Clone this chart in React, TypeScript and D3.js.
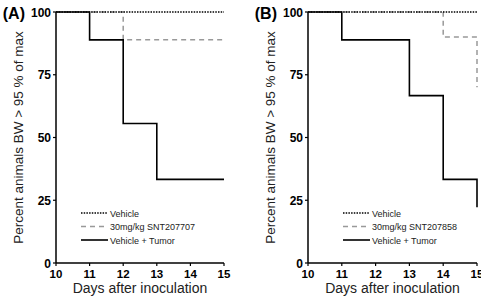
import React from "react";
import * as d3 from "d3";

const xTicks = [10, 11, 12, 13, 14, 15];
const yTicks = [0, 25, 50, 75, 100];

const panelLabels = ["(A)", "(B)"];
const drugNames = ["30mg/kg SNT207707", "30mg/kg SNT207858"];

// step data: [day, percent]
const vehicleA: [number, number][] = [[10, 100], [15, 100]];
const drugA: [number, number][] = [[10, 100], [12, 100], [12, 88.9], [15, 88.9]];
const tumorA: [number, number][] = [[10, 100], [11, 100], [11, 88.9], [12, 88.9], [12, 55.6], [13, 55.6], [13, 33.3], [15, 33.3]];

const vehicleB: [number, number][] = [[10, 100], [15, 100]];
const drugB: [number, number][] = [[10, 100], [14, 100], [14, 90], [15, 90], [15, 70]];
const tumorB: [number, number][] = [[10, 100], [11, 100], [11, 88.9], [13, 88.9], [13, 66.7], [14, 66.7], [14, 33.3], [15, 33.3], [15, 22.2]];

const panels = [
  { label: panelLabels[0], drug: drugNames[0], vehicle: vehicleA, drugData: drugA, tumor: tumorA, x0: 56, x1: 224, legX: 81 },
  { label: panelLabels[1], drug: drugNames[1], vehicle: vehicleB, drugData: drugB, tumor: tumorB, x0: 308, x1: 477, legX: 343 },
];

const font = "Liberation Sans, Arial, Helvetica, sans-serif";

function Panel({ p }: { p: typeof panels[number] }) {
  const x = d3.scaleLinear().domain([10, 15]).range([p.x0, p.x1]);
  const y = d3.scaleLinear().domain([0, 100]).range([263, 12]);
  const line = d3.line<[number, number]>().x((d) => x(d[0])).y((d) => y(d[1]));
  const legendRows = [
    { name: "Vehicle", stroke: "#000", dash: "1.5,1.2", w: 1.3 },
    { name: p.drug, stroke: "#999", dash: "5,4", w: 1.5 },
    { name: "Vehicle + Tumor", stroke: "#000", dash: "", w: 1.6 },
  ];
  const cx = (p.x0 + p.x1) / 2;
  return (
    <g>
      <text x={p.x0 - 31} y={19} fontFamily={font} fontWeight="bold" fontSize={16} textAnchor="end">{p.label}</text>
      <text transform={`translate(${p.x0 - 33},${y(50)}) rotate(-90)`} fontFamily={font} fontSize={13.5} textAnchor="middle" fill="#222">
        Percent animals BW &gt; 95 % of max
      </text>
      <text x={cx} y={293} fontFamily={font} fontSize={14} textAnchor="middle" fill="#222">Days after inoculation</text>
      {/* axes */}
      <line x1={p.x0} x2={p.x0} y1={y(100)} y2={y(0)} stroke="#000" strokeWidth={1.5} />
      <line x1={p.x0} x2={p.x1} y1={y(0)} y2={y(0)} stroke="#000" strokeWidth={1.5} />
      {yTicks.map((t) => (
        <g key={t}>
          <line x1={p.x0 - 3} x2={p.x0} y1={y(t)} y2={y(t)} stroke="#000" strokeWidth={1.2} />
          <text x={p.x0 - 5} y={y(t) + 4.5} fontFamily={font} fontWeight="bold" fontSize={12} textAnchor="end">{t}</text>
        </g>
      ))}
      {xTicks.map((t) => (
        <g key={t}>
          <line x1={x(t)} x2={x(t)} y1={y(0)} y2={y(0) + 3} stroke="#000" strokeWidth={1.2} />
          <text x={x(t)} y={y(0) + 14.5} fontFamily={font} fontWeight="bold" fontSize={11.5} textAnchor="middle">{t}</text>
        </g>
      ))}
      {/* series */}
      <path d={line(p.drugData) || ""} fill="none" stroke="#999" strokeWidth={1.5} strokeDasharray="5,4" />
      <path d={line(p.vehicle) || ""} fill="none" stroke="#000" strokeWidth={1.3} strokeDasharray="1.5,1.2" />
      <path d={line(p.tumor) || ""} fill="none" stroke="#000" strokeWidth={1.6} />
      {/* legend */}
      {legendRows.map((r, i) => (
        <g key={r.name}>
          <line x1={p.legX} x2={p.legX + 27} y1={213 + i * 13.5} y2={213 + i * 13.5} stroke={r.stroke} strokeWidth={r.w} strokeDasharray={r.dash || undefined} />
          <text x={p.legX + 29} y={216.5 + i * 13.5} fontFamily={font} fontSize={9} fill="#222">{r.name}</text>
        </g>
      ))}
    </g>
  );
}

export default function App() {
  return (
    <svg width={481} height={296} style={{ position: "absolute", left: 0, top: 0, background: "#fff" }}>
      <rect width={481} height={296} fill="#fff" />
      {panels.map((p) => (
        <Panel key={p.label} p={p} />
      ))}
    </svg>
  );
}
